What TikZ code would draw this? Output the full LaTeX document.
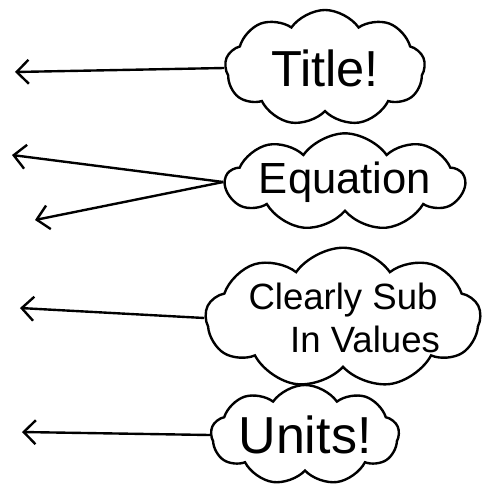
\documentclass[tikz,border=0pt]{standalone}
\usepackage{fontspec}
\setmainfont{Liberation Sans}
\usetikzlibrary{arrows.meta,shapes.symbols}

\begin{document}
\begin{tikzpicture}[x=0.025cm, y=-0.025cm,
      cld/.style={cloud, cloud puffs=9, cloud puff arc=110, cloud ignores aspect, draw=black, line width=1.7pt,
                  align=center, inner sep=0pt},
      arr/.style={{Straight Barb[length=3mm,width=6mm,line width=1.7pt]}-, line width=1.7pt}]
    \useasboundingbox (0,0) rectangle (485,489);
    % clouds
    \node[cld, minimum width=5cm, minimum height=2.9cm, font=\fontsize{36}{38}\selectfont] (title) at (325,68) {Title!};
    \node[cld, minimum width=5.6cm, minimum height=2.4cm, font=\fontsize{31}{33}\selectfont] (eqn) at (345,182) {Equation};
    \node[cld, minimum width=6.1cm, minimum height=3.2cm, font=\fontsize{26}{30}\selectfont] (sub) at (343,318) {Clearly Sub\\\hspace{1.1cm}In Values};
    \node[cld, minimum width=4.7cm, minimum height=2.5cm, font=\fontsize{37}{39}\selectfont] (units) at (305,435) {Units!};
    % arrow tips
    \coordinate (t1) at (15,72);
    \coordinate (t2) at (12,155);
    \coordinate (t3) at (35,220);
    \coordinate (t4) at (20,308);
    \coordinate (t5) at (22,432);
    \draw[arr] (t1) -- (title.west);
    \draw[arr] (t2) -- (eqn.west);
    \draw[arr] (t3) -- (eqn.west);
    \draw[arr] (t4) -- (sub.west);
    \draw[arr] (t5) -- (units.west);
\end{tikzpicture}
\end{document}
